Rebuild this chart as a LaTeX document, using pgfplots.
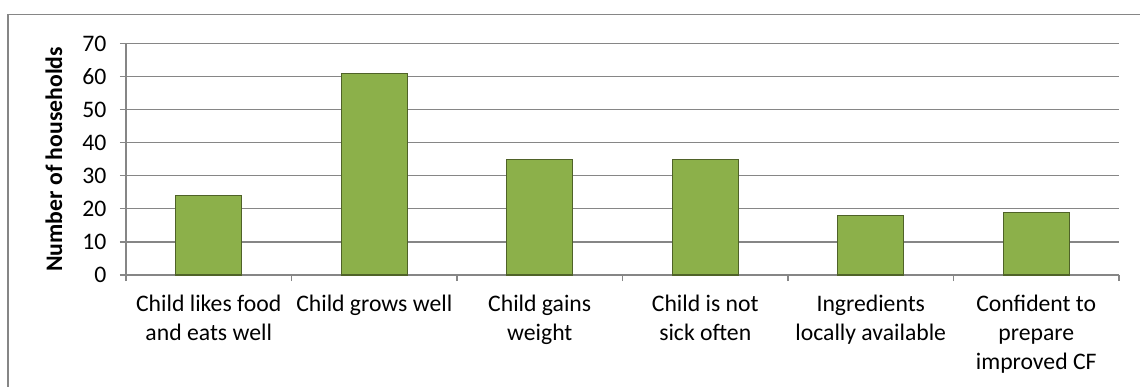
\documentclass[border=0pt]{standalone}
\usepackage{pgfplots}
\pgfplotsset{compat=1.18}
\usepackage{fontspec}
\setmainfont{Carlito}

\definecolor{barfill}{RGB}{140,176,74}
\definecolor{barline}{RGB}{79,98,40}
\definecolor{gridgray}{RGB}{134,134,134}

\newcommand{\chartfont}{\fontsize{23.7bp}{29bp}\selectfont}

\begin{document}
\begin{tikzpicture}
\begin{axis}[
  at={(0,0)}, anchor=south west,
  scale only axis,
  width=993bp, height=231.3bp,
  xmin=0.5, xmax=6.5,
  ymin=0, ymax=70,
  ytick={0,10,...,70},
  axis x line*=bottom,
  axis y line*=left,
  axis line style={draw=gridgray, line width=1.1bp},
  ymajorgrids,
  grid style={draw=gridgray, line width=1.1bp},
  tick align=outside,
  major tick length=6bp,
  ytick style={draw=gridgray, line width=1.1bp},
  xtick={0.5,1.5,...,6.5},
  xticklabels={},
  xtick style={draw=gridgray, line width=1.1bp},
  extra x ticks={1,2,3,4,5,6},
  extra x tick labels={{Child likes food\\and eats well},
                       {Child grows well},
                       {Child gains\\weight},
                       {Child is not\\sick often},
                       {Ingredients\\locally available},
                       {Confident to\\prepare\\improved CF}},
  extra x tick style={major tick length=0pt, grid=none,
    xticklabel style={font=\chartfont, align=center, anchor=north, yshift=-17bp}},
  /pgf/number format/assume math mode=true,
  yticklabel style={font=\chartfont, anchor=east, xshift=-10bp},
  ylabel={\bfseries Number of households},
  every axis y label/.style={at={(axis description cs:0,0.5)}, xshift=-72bp,
    rotate=90, anchor=center, font=\chartfont},
  clip=false,
]
\addplot[ybar, bar width=66bp, fill=barfill, draw=barline, line width=1.3bp]
  coordinates {(1,24) (2,61) (3,35) (4,35) (5,18) (6,19)};
\end{axis}
% chart area frame and page extent
\path[use as bounding box] (-126bp,-112bp) rectangle (1014bp,275bp);
\draw[gridgray, line width=1.1bp] (-118bp,-115bp) -- (-118bp,260.3bp) -- (1017bp,260.3bp);
\end{tikzpicture}
\end{document}
